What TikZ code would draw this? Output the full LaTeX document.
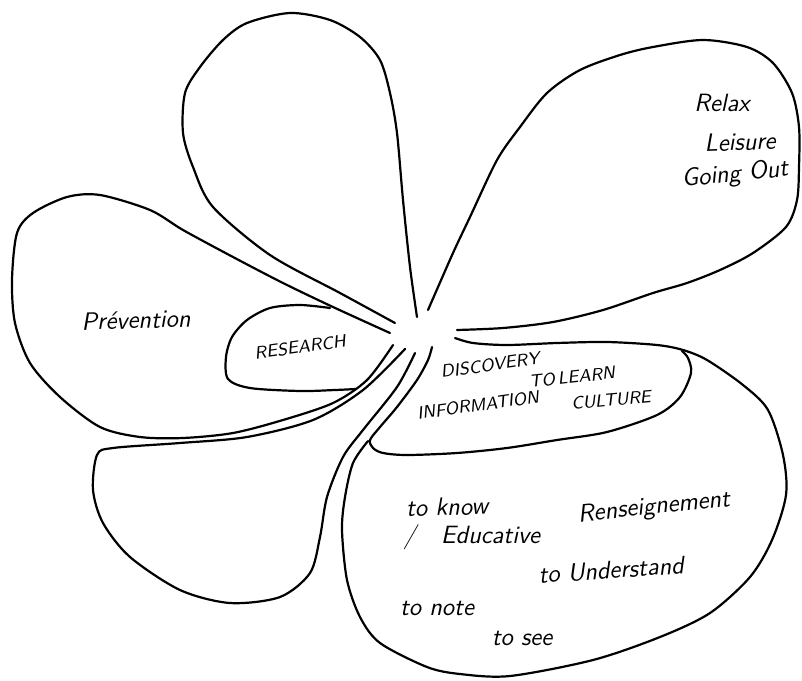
\documentclass[tikz,border=0pt]{standalone}
\usepackage{fontspec}

\begin{document}
\begin{tikzpicture}[
    x=0.5pt, y=-0.5pt,
    petal/.style={line width=1.1pt, line cap=round, line join=round},
    word/.style={font=\sffamily\itshape\fontsize{12.5}{14}\selectfont, inner sep=0pt},
    caps/.style={font=\sffamily\itshape\fontsize{8.8}{10}\selectfont, inner sep=0pt}
]
\useasboundingbox (0,0) rectangle (802,680);

% top petal
\draw[petal] plot[smooth] coordinates {
    (395,323) (340,293) (270,255) (213,207) (193,167) (183,133) (185,93)
    (200,67) (223,40) (247,23) (290,13) (330,20) (360,37) (380,60)
    (390,93) (397,133) (403,200) (410,267) (417,317)};
% relax petal
\draw[petal] plot[smooth] coordinates {
    (428,310) (453,253) (470,217) (497,160) (520,127) (547,93) (580,70)
    (620,55) (653,47) (703,40) (747,47) (773,63) (792,93) (799,127)
    (799,167) (797,200) (786,227) (753,253) (720,270) (687,283) (653,293)
    (603,310) (553,322) (503,328) (457,330)};
% prevention petal
\draw[petal] plot[smooth] coordinates {
    (390,333) (333,307) (283,283) (233,257) (183,230) (150,210) (100,195)
    (67,197) (33,213) (17,233) (12,280) (15,323) (30,363) (60,397)
    (100,427) (140,437) (183,438) (233,433) (283,420) (333,403) (367,380)
    (393,345)};
% research petal
\draw[petal] plot[smooth] coordinates {
    (330,308) (300,305) (270,308) (247,320) (232,337) (226,357) (228,379)
    (250,388) (300,391) (335,390) (356,389)};
% lower left petal
\draw[petal] plot[smooth] coordinates {
    (405,349) (363,390) (313,420) (247,437) (180,443) (113,448) (97,455)
    (93,490) (103,523) (130,557) (180,590) (230,603) (280,597) (310,573)
    (320,537) (327,497) (343,457) (363,430) (397,387) (415,353)};
% discovery petal
\draw[petal] plot[smooth] coordinates {
    (432,347) (428,360) (417,380) (397,407) (380,427) (370,440) (373,448)
    (383,453) (407,455) (457,453) (507,448) (557,440) (607,432) (657,415)
    (680,397) (691,373) (688,358) (682,351)};
% big petal
\draw[petal] plot[smooth] coordinates {
    (455,338) (473,343) (507,345) (557,343) (607,342) (657,345) (683,350)
    (707,360) (743,385) (768,410) (783,455) (786,495) (772,540) (750,577)
    (710,613) (660,637) (593,660) (510,676) (460,674) (427,667) (380,643)
    (360,617) (347,580) (342,530) (345,497) (353,463) (368,441)};

\foreach \n/\x/\y/\r/\t in {
    relax/722/103/0/{Relax},
    leisure/740/142/2/{Leisure},
    goingout/735/175/6/{Going Out},
    prevention/136/320/2/{Prévention},
    toknow/447/507/2/{to know},
    renseignement/654/508/6/{Renseignement},
    educative/472/537/0/{\slash\quad Educative},
    understand/611/570/4/{to Understand},
    tonote/437/608/0/{to note},
    tosee/522/638/0/{to see}
}{
    \node[word, rotate=\r] (\n) at (\x,\y) {\t};
}
\foreach \n/\x/\y/\r/\t in {
    research/300/347/8/{RESEARCH},
    discovery/490/365/8/{DISCOVERY},
    tolearn/572/377/6/{TO\kern1.5pt LEARN},
    information/478/405/8/{INFORMATION},
    culture/611/400/5/{CULTURE}
}{
    \node[caps, rotate=\r] (\n) at (\x,\y) {\t};
}
\end{tikzpicture}
\end{document}
